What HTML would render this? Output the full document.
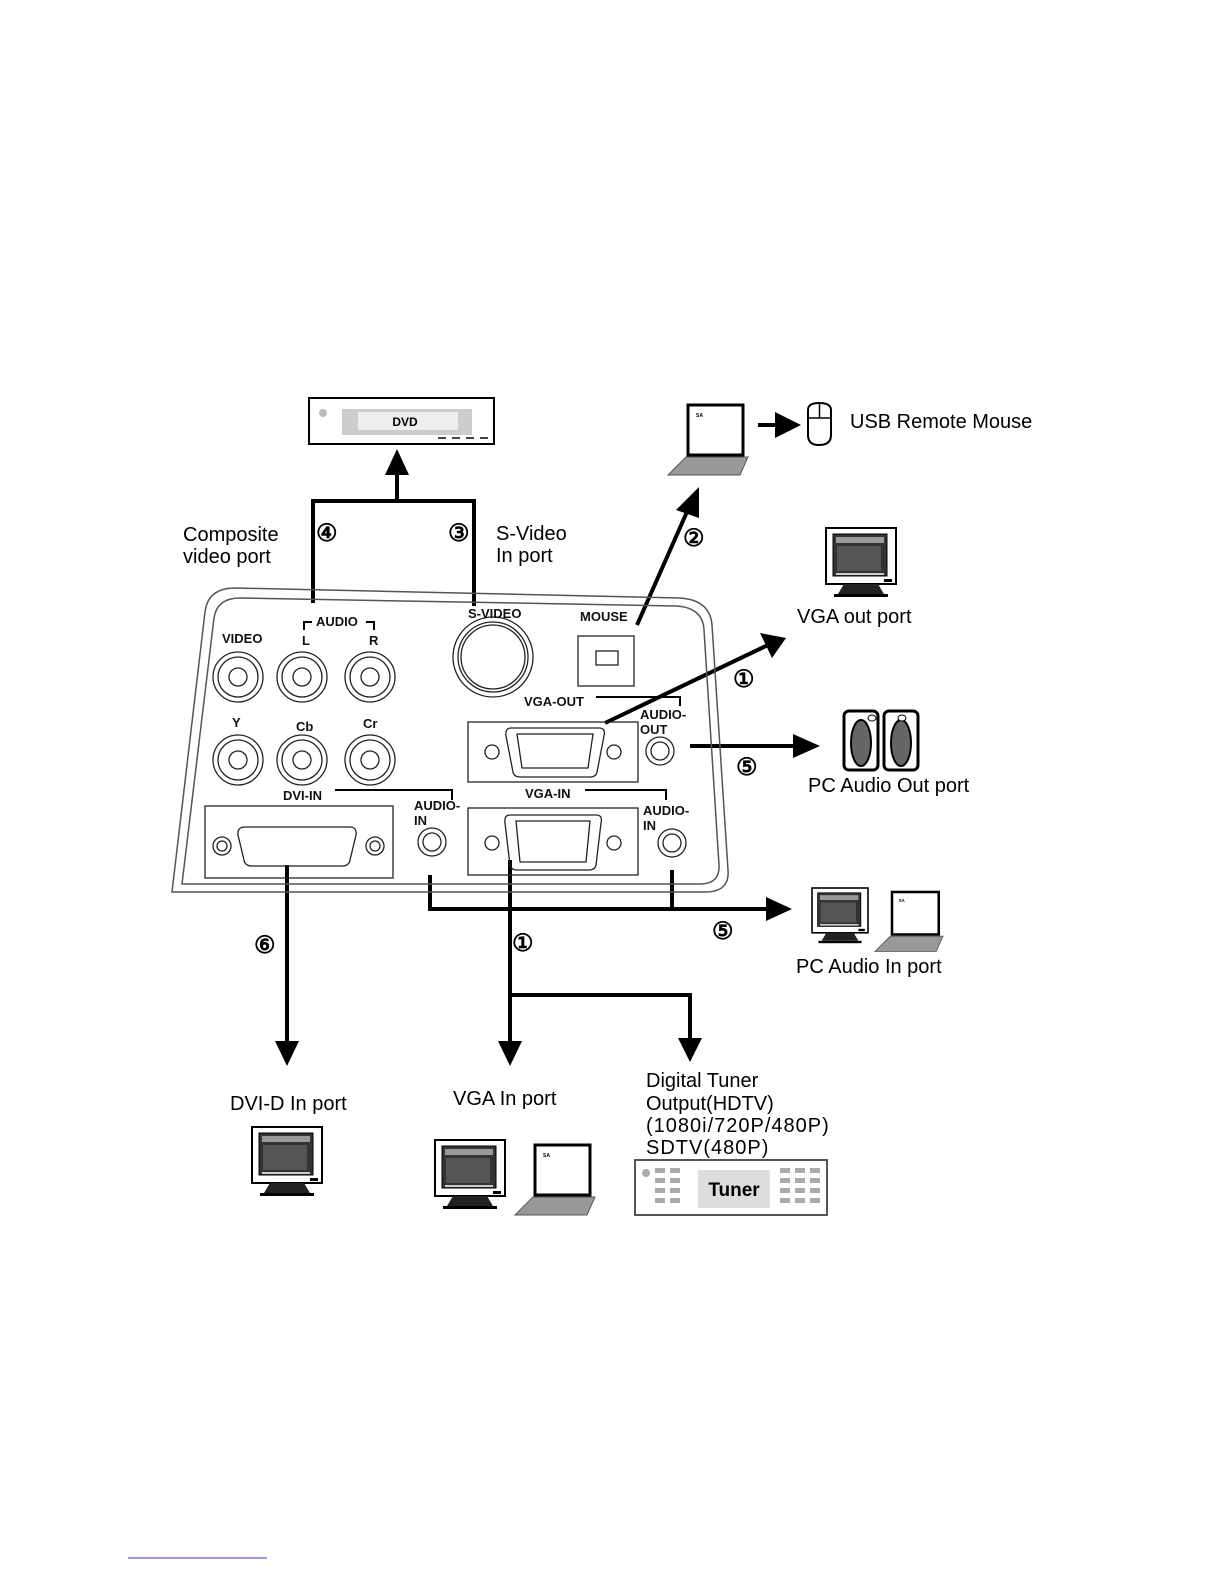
<!DOCTYPE html>
<html><head><meta charset="utf-8"><style>
html,body{margin:0;padding:0;background:#fff;}
svg{display:block;}
text{font-family:"Liberation Sans",sans-serif;}
</style></head><body>
<svg width="1224" height="1584" viewBox="0 0 1224 1584" xmlns="http://www.w3.org/2000/svg">
<defs>
<g id="mon">
 <rect x="0" y="0" width="70" height="56" fill="#fff" stroke="#000" stroke-width="2"/>
 <rect x="7" y="6" width="54" height="42" fill="#333" stroke="#000"/>
 <rect x="10" y="9" width="48" height="6" fill="#999"/>
 <rect x="11" y="18" width="44" height="25" fill="#555"/>
 <rect x="10" y="45" width="48" height="2" fill="#ccc"/>
 <rect x="58" y="51" width="8" height="3" fill="#000"/>
 <polygon points="18,56 52,56 58,66 12,66" fill="#222"/>
 <rect x="8" y="66" width="54" height="3" fill="#000"/>
</g>
<g id="lap">
 <rect x="20" y="0" width="55" height="50" fill="#fff" stroke="#000" stroke-width="3"/>
 <text x="28" y="12" font-size="5" font-weight="bold">SA</text>
 <polygon points="18,52 80,52 72,70 0,70" fill="#999" stroke="#555"/>
</g>
</defs>

<rect x="309" y="398" width="185" height="46" fill="#fff" stroke="#000" stroke-width="2"/>
<circle cx="323" cy="413" r="4" fill="#bbb"/>
<rect x="342" y="409" width="130" height="26" fill="#ccc"/>
<rect x="358" y="412" width="100" height="18" fill="#eee"/>
<text x="405" y="426" font-size="12" font-weight="bold" text-anchor="middle">DVD</text>
<g stroke="#444" stroke-width="2"><line x1="438" y1="438" x2="446" y2="438"/><line x1="452" y1="438" x2="460" y2="438"/><line x1="466" y1="438" x2="474" y2="438"/><line x1="480" y1="438" x2="488" y2="438"/></g>

<g stroke="#000" stroke-width="4" fill="none">
 <line x1="397" y1="501" x2="397" y2="470"/>
 <line x1="313" y1="501" x2="474" y2="501"/>
 <line x1="313" y1="499" x2="313" y2="603"/>
 <line x1="474" y1="499" x2="474" y2="606"/>
 <line x1="637" y1="625" x2="690" y2="505"/>
 <line x1="758" y1="425" x2="780" y2="425"/>
 <line x1="605" y1="723" x2="768" y2="645"/>
 <line x1="690" y1="746" x2="795" y2="746"/>
 <line x1="287" y1="865" x2="287" y2="1045"/>
 <line x1="430" y1="875" x2="430" y2="909"/>
 <line x1="672" y1="870" x2="672" y2="909"/>
 <line x1="428" y1="909" x2="770" y2="909"/>
 <line x1="510" y1="860" x2="510" y2="1045"/>
 <line x1="510" y1="995" x2="692" y2="995"/>
 <line x1="690" y1="993" x2="690" y2="1042"/>
</g>
<g fill="#000">
 <polygon points="385,475 409,475 397,449"/>
 <polygon points="676,510 699,518 699,487"/>
 <polygon points="775,412 775,438 801,425"/>
 <polygon points="760,633 772,658 786,638"/>
 <polygon points="793,734 793,758 820,746"/>
 <polygon points="766,897 766,921 792,909"/>
 <polygon points="275,1041 299,1041 287,1066"/>
 <polygon points="498,1041 522,1041 510,1066"/>
 <polygon points="678,1038 702,1038 690,1062"/>
</g>

<g font-size="20">
<text x="183" y="541">Composite</text>
<text x="183" y="563">video port</text>
<text x="496" y="540">S-Video</text>
<text x="496" y="562">In port</text>
<text x="850" y="428">USB Remote Mouse</text>
<text x="797" y="623">VGA out port</text>
<text x="808" y="792">PC Audio Out port</text>
<text x="796" y="973">PC Audio In port</text>
<text x="230" y="1110">DVI-D In port</text>
<text x="453" y="1105">VGA In port</text>
<text x="646" y="1087">Digital Tuner</text>
<text x="646" y="1110">Output(HDTV)</text>
<text x="646" y="1132" letter-spacing="1">(1080i/720P/480P)</text>
<text x="646" y="1154" letter-spacing="1">SDTV(480P)</text>
</g>
<g font-size="24" font-weight="bold">
<text x="316" y="541">④</text><text x="448" y="541">③</text>
<text x="683" y="546">②</text><text x="733" y="687">①</text>
<text x="736" y="775">⑤</text><text x="712" y="939">⑤</text>
<text x="254" y="953">⑥</text><text x="512" y="951">①</text>
</g>

<use href="#lap" x="668" y="405"/>
<path d="M808,410 Q808,403 819,403 Q831,403 831,410 L831,435 Q831,445 819,445 Q808,445 808,435 Z" fill="#fff" stroke="#000" stroke-width="2"/>
<line x1="808" y1="418" x2="831" y2="418" stroke="#000" stroke-width="1.5"/>
<line x1="819.5" y1="403" x2="819.5" y2="418" stroke="#000" stroke-width="1.5"/>

<use href="#mon" x="826" y="528"/>

<g stroke="#000" stroke-width="3">
<rect x="844" y="711" width="34" height="59" rx="5" fill="#fff"/>
<rect x="884" y="711" width="34" height="59" rx="5" fill="#fff"/>
</g>
<ellipse cx="861" cy="743" rx="10" ry="23" fill="#666" stroke="#000" stroke-width="2"/>
<ellipse cx="901" cy="743" rx="10" ry="23" fill="#666" stroke="#000" stroke-width="2"/>
<ellipse cx="872" cy="718" rx="4" ry="3" fill="#fff" stroke="#000"/>
<ellipse cx="902" cy="718" rx="4" ry="3" fill="#fff" stroke="#000"/>

<path d="M172,892 L205,612 Q208,588 235,588 L680,598 Q710,600 712,625 L728,870 Q730,892 705,892 Z" fill="none" stroke="#555" stroke-width="1.5"/>
<path d="M182,884 L214,618 Q217,598 240,598 L677,606 Q703,608 704,630 L719,865 Q720,884 700,884 Z" fill="none" stroke="#555" stroke-width="1.5"/>

<g fill="none" stroke="#222" stroke-width="1.3">
 <circle cx="238" cy="677" r="25"/><circle cx="238" cy="677" r="20"/><circle cx="238" cy="677" r="9"/>
 <circle cx="302" cy="677" r="25"/><circle cx="302" cy="677" r="20"/><circle cx="302" cy="677" r="9"/>
 <circle cx="370" cy="677" r="25"/><circle cx="370" cy="677" r="20"/><circle cx="370" cy="677" r="9"/>
 <circle cx="238" cy="760" r="25"/><circle cx="238" cy="760" r="20"/><circle cx="238" cy="760" r="9"/>
 <circle cx="302" cy="760" r="25"/><circle cx="302" cy="760" r="20"/><circle cx="302" cy="760" r="9"/>
 <circle cx="370" cy="760" r="25"/><circle cx="370" cy="760" r="20"/><circle cx="370" cy="760" r="9"/>
 <circle cx="493" cy="657" r="40"/><circle cx="493" cy="657" r="35"/><circle cx="493" cy="657" r="32"/>
 <rect x="578" y="636" width="56" height="50"/><rect x="596" y="651" width="22" height="14"/>
 <rect x="468" y="722" width="170" height="60"/>
 <path d="M511,728 L599,728 Q606,728 604,736 L597,772 Q596,777 590,777 L520,777 Q514,777 513,772 L506,736 Q505,728 511,728 Z"/>
 <path d="M517,734 L593,734 L588,768 L522,768 Z"/>
 <circle cx="492" cy="752" r="7"/><circle cx="614" cy="752" r="7"/>
 <circle cx="660" cy="751" r="14"/><circle cx="660" cy="751" r="9"/>
 <rect x="205" y="806" width="188" height="72"/>
 <path d="M245,827 L350,827 Q357,827 356,835 L350,860 Q349,866 342,866 L252,866 Q245,866 244,860 L238,835 Q237,827 245,827 Z"/>
 <circle cx="222" cy="846" r="9"/><circle cx="222" cy="846" r="5"/>
 <circle cx="375" cy="846" r="9"/><circle cx="375" cy="846" r="5"/>
 <circle cx="432" cy="842" r="14"/><circle cx="432" cy="842" r="9"/>
 <rect x="468" y="808" width="170" height="67"/>
 <path d="M510,815 L596,815 Q603,815 601,823 L596,865 Q595,870 589,870 L517,870 Q511,870 510,865 L505,823 Q504,815 510,815 Z"/>
 <path d="M516,821 L590,821 L586,862 L520,862 Z"/>
 <circle cx="492" cy="843" r="7"/><circle cx="614" cy="843" r="7"/>
 <circle cx="672" cy="843" r="14"/><circle cx="672" cy="843" r="9"/>
</g>
<g stroke="#000" stroke-width="2" fill="none">
 <polyline points="304,630 304,622 312,622"/><polyline points="366,622 374,622 374,630"/>
 <polyline points="596,697 680,697 680,706"/>
 <polyline points="335,790 452,790 452,800"/>
 <polyline points="585,790 666,790 666,800"/>
</g>
<g font-size="13" font-weight="bold" fill="#111">
 <text x="316" y="626">AUDIO</text>
 <text x="302" y="645">L</text><text x="369" y="645">R</text>
 <text x="222" y="643">VIDEO</text>
 <text x="232" y="727">Y</text><text x="296" y="731">Cb</text><text x="363" y="728">Cr</text>
 <text x="468" y="618">S-VIDEO</text>
 <text x="580" y="621">MOUSE</text>
 <text x="524" y="706">VGA-OUT</text>
 <text x="640" y="719">AUDIO-</text><text x="640" y="734">OUT</text>
 <text x="283" y="800">DVI-IN</text>
 <text x="414" y="810">AUDIO-</text><text x="414" y="825">IN</text>
 <text x="525" y="798">VGA-IN</text>
 <text x="643" y="815">AUDIO-</text><text x="643" y="830">IN</text>
</g>

<use href="#mon" x="812" y="888" transform="translate(812,888) scale(0.8) translate(-812,-888)"/>
<use href="#lap" x="875" y="892" transform="translate(875,892) scale(0.85) translate(-875,-892)"/>
<use href="#mon" x="252" y="1127"/>
<use href="#mon" x="435" y="1140"/>
<use href="#lap" x="515" y="1145"/>

<rect x="635" y="1160" width="192" height="55" fill="#fff" stroke="#555" stroke-width="2"/>
<circle cx="646" cy="1173" r="4" fill="#aaa"/>
<g fill="#aaa">
 <rect x="655" y="1168" width="10" height="5"/><rect x="670" y="1168" width="10" height="5"/>
 <rect x="655" y="1178" width="10" height="5"/><rect x="670" y="1178" width="10" height="5"/>
 <rect x="655" y="1188" width="10" height="5"/><rect x="670" y="1188" width="10" height="5"/>
 <rect x="655" y="1198" width="10" height="5"/><rect x="670" y="1198" width="10" height="5"/>
 <rect x="780" y="1168" width="10" height="5"/><rect x="795" y="1168" width="10" height="5"/><rect x="810" y="1168" width="10" height="5"/>
 <rect x="780" y="1178" width="10" height="5"/><rect x="795" y="1178" width="10" height="5"/><rect x="810" y="1178" width="10" height="5"/>
 <rect x="780" y="1188" width="10" height="5"/><rect x="795" y="1188" width="10" height="5"/><rect x="810" y="1188" width="10" height="5"/>
 <rect x="780" y="1198" width="10" height="5"/><rect x="795" y="1198" width="10" height="5"/><rect x="810" y="1198" width="10" height="5"/>
</g>
<rect x="698" y="1170" width="72" height="38" fill="#ddd"/>
<text x="734" y="1196" font-size="19" font-weight="bold" text-anchor="middle">Tuner</text>

<line x1="128" y1="1558" x2="267" y2="1558" stroke="#33c" stroke-width="1"/>
</svg>
</body></html>
